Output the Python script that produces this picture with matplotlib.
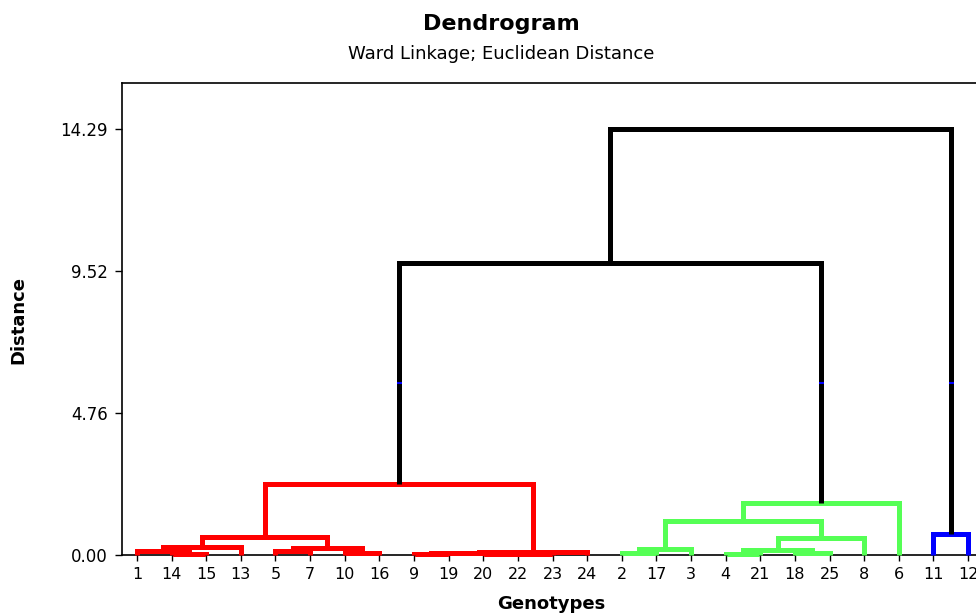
import matplotlib
matplotlib.use("Agg")
import matplotlib.pyplot as plt

leaf_labels = ["1", "14", "15", "13", "5", "7", "10", "16", "9", "19", "20", "22", "23", "24",
               "2", "17", "3", "4", "21", "18", "25", "8", "6", "11", "12"]

# merge k is called "m<k>"; children are leaf labels or earlier merges
merge_left = ["14", "1", "m1", "5", "10", "m3", "m2", "9", "20", "m8", "m7", "m10", "m6",
              "2", "m13", "4", "18", "m15", "m17", "m14", "m19", "11", "m12", "m22"]
merge_right = ["15", "m0", "13", "7", "16", "m4", "m5", "19", "22", "23", "m9", "24", "m11",
               "17", "3", "21", "25", "m16", "8", "m18", "6", "12", "m20", "m21"]
merge_height = [0.05, 0.15, 0.27, 0.13, 0.08, 0.22, 0.60, 0.03, 0.03, 0.05, 0.08, 0.10, 2.38,
                0.06, 0.20, 0.05, 0.06, 0.16, 0.56, 1.13, 1.74, 0.72, 9.80, 14.29]
merge_group = ["red"] * 13 + ["green"] * 8 + ["blue"] + ["black"] * 2

cut_height = 5.77
y_ticks = [0.00, 4.76, 9.52, 14.29]

colors = {"red": "#ff0000", "green": "#55ff55", "blue": "#0000ff", "black": "#000000"}

fig = plt.figure(figsize=(9.76, 6.14), dpi=100)
ax = fig.add_axes([0.1247, 0.0961, 0.8828, 0.7687])

pos = {lab: i + 1 for i, lab in enumerate(leaf_labels)}
hgt = {lab: 0.0 for lab in leaf_labels}

for k, (a, b, h, g) in enumerate(zip(merge_left, merge_right, merge_height, merge_group)):
    xa, xb = pos[a], pos[b]
    ha, hb = hgt[a], hgt[b]
    ax.plot([xa, xa, xb, xb], [ha, h, h, hb], color=colors[g], lw=3.6,
            solid_joinstyle="miter", solid_capstyle="butt", clip_on=False, zorder=3)
    for x, hc in ((xa, ha), (xb, hb)):
        if hc < cut_height < h:
            ax.plot([x], [cut_height], marker="_", ms=3.6, mew=1.5, color="#0000ff",
                    zorder=4, clip_on=False)
    name = f"m{k}"
    pos[name] = (xa + xb) / 2
    hgt[name] = h

ax.set_xlim(0.56, 25.44)
ax.set_ylim(0, 15.84)
ax.set_xticks(range(1, len(leaf_labels) + 1))
ax.set_xticklabels(leaf_labels, fontsize=11.5)
ax.set_yticks(y_ticks)
ax.set_yticklabels([f"{v:.2f}" for v in y_ticks], fontsize=12)
ax.tick_params(axis="x", length=4, width=1, pad=5)
ax.tick_params(axis="y", length=5, width=1, pad=5)
for s in ax.spines.values():
    s.set_linewidth(1.2)
ax.spines["right"].set_visible(False)

fig.text(0.514, 0.961, "Dendrogram", ha="center", va="center", fontsize=16, fontweight="bold")
fig.text(0.514, 0.912, "Ward Linkage; Euclidean Distance", ha="center", va="center", fontsize=13)
fig.text(0.019, 0.479, "Distance", rotation=90, ha="center", va="center", fontsize=13,
         fontweight="bold")
fig.text(0.565, 0.017, "Genotypes", ha="center", va="center", fontsize=13, fontweight="bold")

fig.savefig("out.png", dpi=100)
